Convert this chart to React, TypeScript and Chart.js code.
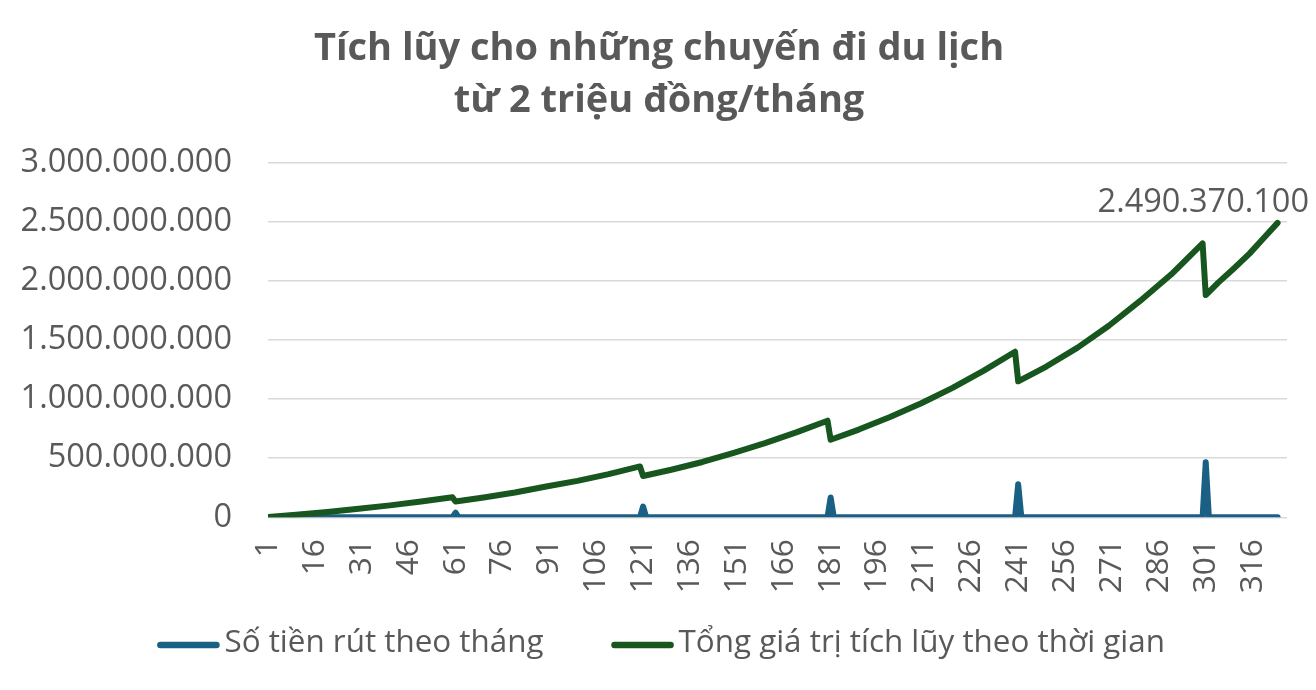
import React, { useEffect, useRef } from 'react';
import { Chart, registerables } from 'chart.js';

Chart.register(...registerables);

const TITLE_LINES = ['Tích lũy cho những chuyến đi du lịch', 'từ 2 triệu đồng/tháng'];
const WITHDRAW_LABEL = 'Số tiền rút theo tháng';
const TOTAL_LABEL = 'Tổng giá trị tích lũy theo thời gian';

// Month index (x) and withdrawal amount (VND)
const WITHDRAW_MONTHS = [1, 60, 61, 62, 120, 121, 122, 180, 181, 182, 240, 241, 242, 300, 301, 302, 324];
const WITHDRAW_VALUES = [0, 0, 40000000, 0, 0, 90000000, 0, 0, 168000000, 0, 0, 280000000, 0, 0, 465000000, 0, 0];

// Month index (x) and accumulated value (VND)
const TOTAL_MONTHS = [
  1, 10, 20, 30, 40, 50, 60, 61, 70, 80, 90, 100, 110, 120, 121, 130, 140, 150, 160, 170, 180, 181,
  190, 200, 210, 220, 230, 240, 241, 250, 260, 270, 280, 290, 300, 301, 305, 310, 315, 320, 324,
];
const TOTAL_VALUES = [
  2000000, 21000000, 45000000, 72000000, 101000000, 134000000, 169000000, 134000000, 168000000,
  210000000, 260000000, 308000000, 365000000, 430000000, 349000000, 402000000, 468000000, 545000000,
  628000000, 718000000, 817000000, 656000000, 742000000, 848000000, 965000000, 1095000000,
  1240000000, 1400000000, 1150000000, 1275000000, 1435000000, 1620000000, 1830000000, 2055000000,
  2317000000, 1880000000, 1985000000, 2105000000, 2230000000, 2375000000, 2490370100,
];

const X_TICKS = [1, 16, 31, 46, 61, 76, 91, 106, 121, 136, 151, 166, 181, 196, 211, 226, 241, 256, 271, 286, 301, 316];
const X_MIN = 1;
const X_MAX = 327;
const Y_MIN = 0;
const Y_MAX = 3000000000;
const Y_STEP = 500000000;

const BLUE = '#1a5f84';
const GREEN = '#17561f';
const TEXT = '#595959';
const GRID = '#d9d9d9';
const FONT = '"Open Sans", "DejaVu Sans", sans-serif';

const fmt = (v: number) => Math.round(v).toString().replace(/\B(?=(\d{3})+(?!\d))/g, '.');

const titlePlugin = {
  id: 'customTitle',
  afterDraw(chart: any) {
    const ctx = chart.ctx;
    ctx.save();
    ctx.font = `bold 38px ${FONT}`;
    ctx.fillStyle = TEXT;
    ctx.textAlign = 'center';
    ctx.textBaseline = 'alphabetic';
    TITLE_LINES.forEach((line, i) => {
      ctx.fillText(line, 659, 60 + i * 52);
    });
    ctx.restore();
  },
};

const legendPlugin = {
  id: 'customLegend',
  afterDraw(chart: any) {
    const ctx = chart.ctx;
    const items = chart.data.datasets.map((d: any) => ({ label: d.label, color: d.borderColor }));
    ctx.save();
    ctx.font = `31.4px ${FONT}`;
    const sample = 56;
    const cap = 3.3;
    const textGap = 64;
    const itemGap = 71;
    const widths = items.map((it: any) => textGap + ctx.measureText(it.label).width);
    const total = widths.reduce((a: number, b: number) => a + b, 0) + itemGap * (items.length - 1);
    const centerX = 661;
    let x = centerX - (total - cap) / 2;
    const lineY = 645;
    const textY = 652;
    items.forEach((it: any, i: number) => {
      ctx.strokeStyle = it.color;
      ctx.lineWidth = 6.6;
      ctx.lineCap = 'round';
      ctx.beginPath();
      ctx.moveTo(x, lineY);
      ctx.lineTo(x + sample, lineY);
      ctx.stroke();
      ctx.fillStyle = TEXT;
      ctx.textAlign = 'left';
      ctx.textBaseline = 'alphabetic';
      ctx.fillText(it.label, x + textGap, textY);
      x += widths[i] + itemGap;
    });
    ctx.restore();
  },
};

const endLabelPlugin = {
  id: 'endLabel',
  afterDatasetsDraw(chart: any) {
    const idx = chart.data.datasets.findIndex((d: any) => d.label === TOTAL_LABEL);
    const meta = chart.getDatasetMeta(idx);
    const pts = meta.data;
    const last = pts[pts.length - 1];
    const values = chart.data.datasets[idx].data;
    const v = values[values.length - 1].y;
    const ctx = chart.ctx;
    ctx.save();
    ctx.font = `32.5px ${FONT}`;
    const text = fmt(v);
    const w = ctx.measureText(text).width;
    let cx = last.x;
    const right = chart.width - 7;
    if (cx + w / 2 > right) cx = right - w / 2;
    ctx.fillStyle = TEXT;
    ctx.textAlign = 'center';
    ctx.textBaseline = 'alphabetic';
    ctx.fillText(text, cx, last.y - 10.5);
    ctx.restore();
  },
};

export default function App() {
  const ref = useRef<HTMLCanvasElement | null>(null);

  useEffect(() => {
    if (!ref.current) return;
    const chart = new Chart(ref.current, {
      type: 'line',
      data: {
        datasets: [
          {
            label: WITHDRAW_LABEL,
            data: WITHDRAW_MONTHS.map((m, i) => ({ x: m, y: WITHDRAW_VALUES[i] })),
            borderColor: BLUE,
            backgroundColor: BLUE,
            borderWidth: 6,
            borderJoinStyle: 'round',
            borderCapStyle: 'round',
            pointRadius: 0,
            tension: 0,
            order: 2,
          },
          {
            label: TOTAL_LABEL,
            data: TOTAL_MONTHS.map((m, i) => ({ x: m, y: TOTAL_VALUES[i] })),
            borderColor: GREEN,
            backgroundColor: GREEN,
            borderWidth: 6,
            borderJoinStyle: 'round',
            borderCapStyle: 'round',
            pointRadius: 0,
            tension: 0,
            order: 1,
          },
        ],
      },
      options: {
        animation: false,
        responsive: true,
        maintainAspectRatio: false,
        layout: { padding: { left: 0, right: 29, top: 162.6, bottom: 90 } },
        plugins: {
          legend: { display: false },
          tooltip: { enabled: false },
          title: { display: false },
        },
        scales: {
          x: {
            type: 'linear',
            min: X_MIN,
            max: X_MAX,
            afterBuildTicks: (scale: any) => {
              scale.ticks = X_TICKS.map((v) => ({ value: v }));
            },
            afterFit: (scale: any) => {
              scale.height = 82.7;
            },
            grid: { display: false, drawTicks: false },
            border: { display: false },
            ticks: {
              autoSkip: false,
              minRotation: 90,
              maxRotation: 90,
              padding: 22,
              color: TEXT,
              font: { family: FONT, size: 31.5 },
              callback: (v: any) => String(v),
            },
          },
          y: {
            min: Y_MIN,
            max: Y_MAX,
            afterFit: (scale: any) => {
              scale.width = 268;
            },
            grid: { color: GRID, lineWidth: 1.5, drawTicks: false },
            border: { display: false },
            ticks: {
              stepSize: Y_STEP,
              padding: 36,
              color: TEXT,
              font: { family: FONT, size: 32.5 },
              callback: (v: any) => fmt(Number(v)),
            },
          },
        },
      },
      plugins: [titlePlugin, legendPlugin, endLabelPlugin],
    } as any);
    return () => chart.destroy();
  }, []);

  return (
    <div style={{ position: 'fixed', left: 0, top: 0, width: 1316, height: 690, background: '#fff' }}>
      <canvas ref={ref} />
    </div>
  );
}
